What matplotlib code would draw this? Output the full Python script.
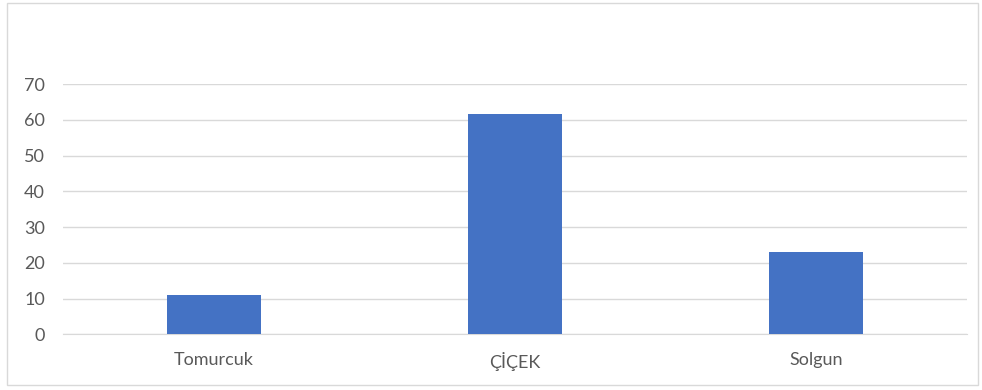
import matplotlib.pyplot as plt
from matplotlib.patches import Rectangle

categories = ["Tomurcuk", "ÇİÇEK", "Solgun"]
values = [11, 61.5, 23]
yticks = [0, 10, 20, 30, 40, 50, 60, 70]

fig = plt.figure(figsize=(9.82, 3.9), dpi=100)
ax = fig.add_axes([0.0642, 0.1428, 0.9205, 0.6418])

ax.bar(range(len(categories)), values, width=0.313, color="#4472C4", zorder=3)

ax.set_xlim(-0.5, len(categories) - 0.5)
ax.set_ylim(0, 70)
ax.set_yticks(yticks)
ax.set_xticks(range(len(categories)))
ax.set_xticklabels(categories)

ax.grid(axis="y", color="#d9d9d9", linewidth=1, zorder=0)
for s in ["top", "right", "left"]:
    ax.spines[s].set_visible(False)
ax.spines["bottom"].set_color("#d9d9d9")
ax.tick_params(axis="both", length=0, colors="#595959", labelsize=13)
ax.tick_params(axis="y", pad=13)
ax.tick_params(axis="x", pad=13)
for lbl in ax.get_xticklabels() + ax.get_yticklabels():
    lbl.set_fontfamily(["Lato", "DejaVu Sans"])

# outer chart border
fig.patches.append(Rectangle((7 / 982, 5 / 390), 971 / 982, 382 / 390,
                             transform=fig.transFigure, fill=False,
                             edgecolor="#d9d9d9", linewidth=1))

fig.savefig("out.png", dpi=100)
